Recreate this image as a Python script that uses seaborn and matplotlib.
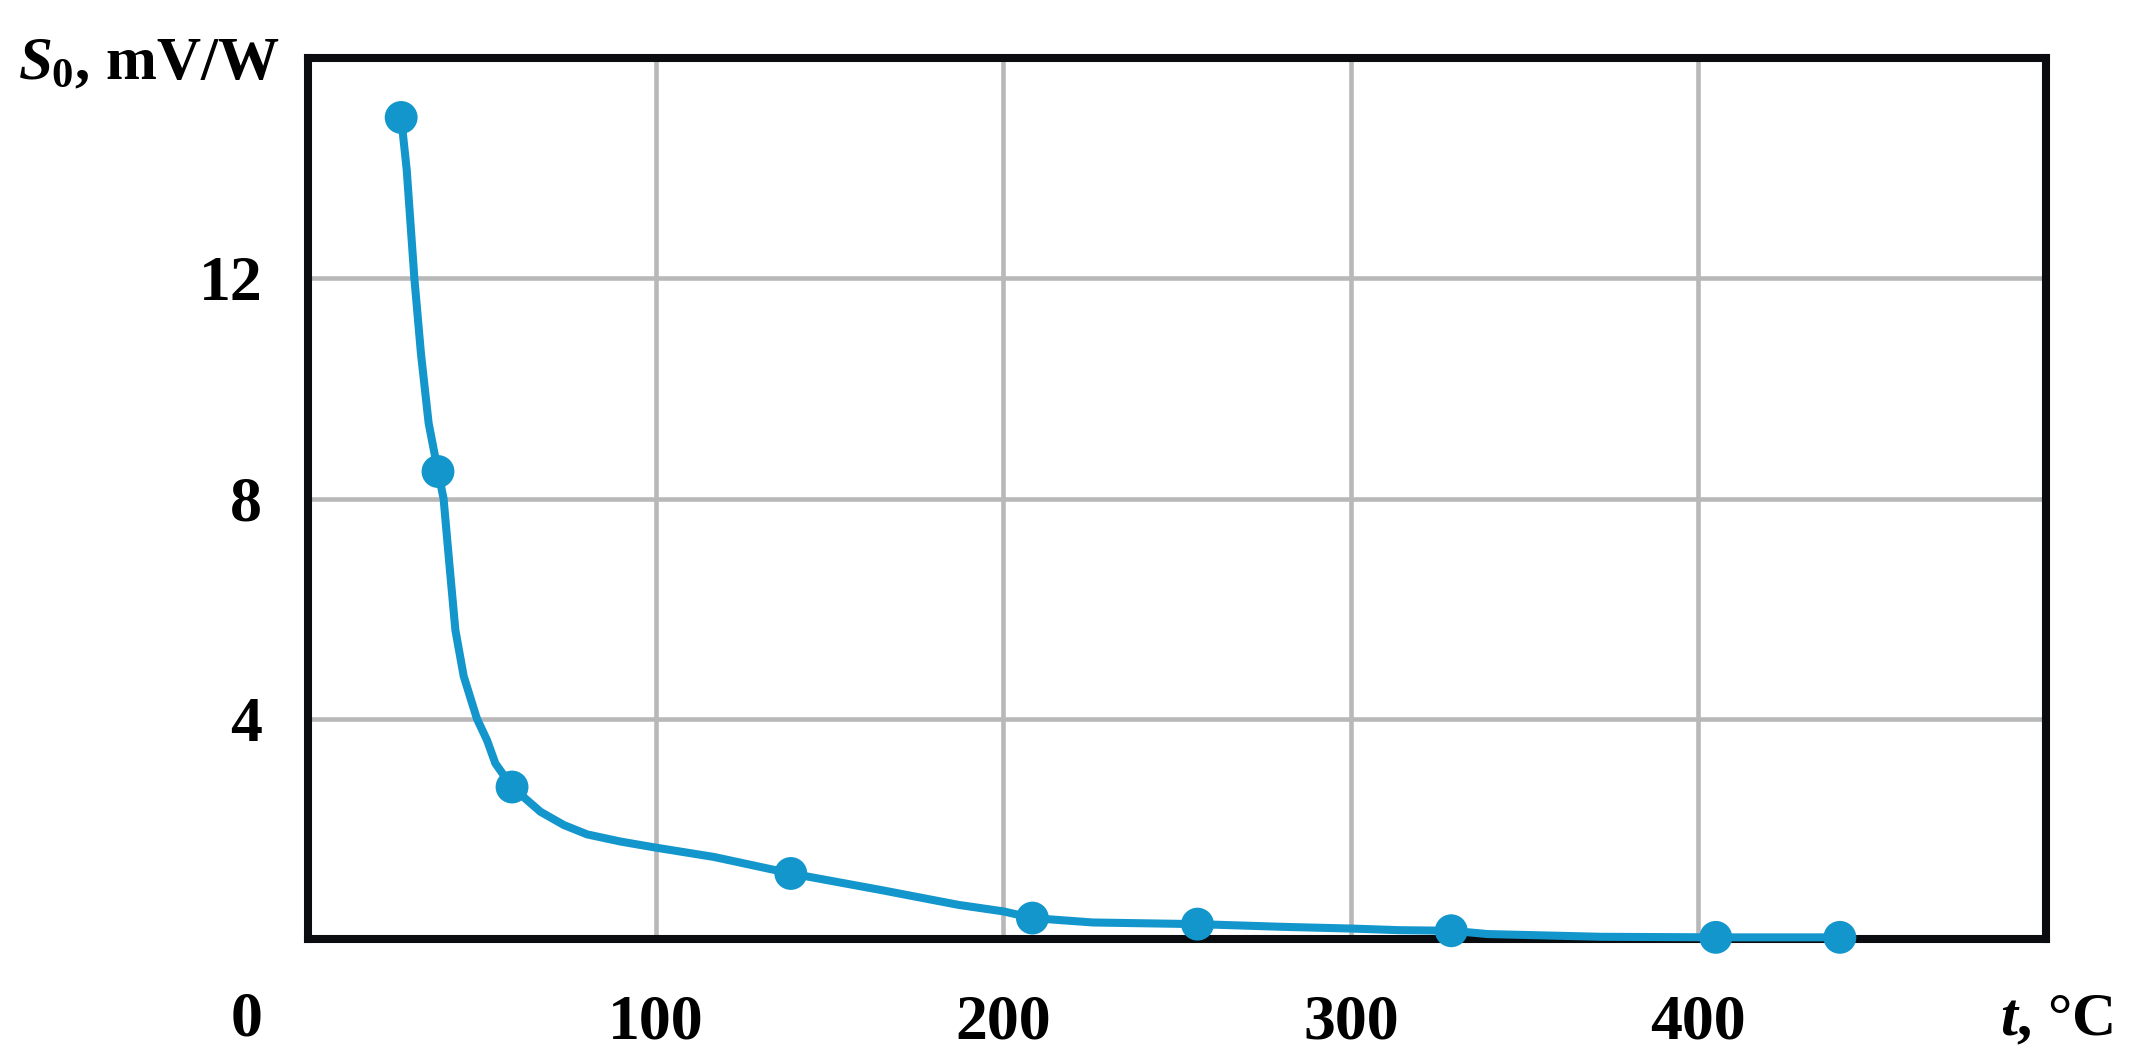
import matplotlib
matplotlib.use("Agg")
import matplotlib.pyplot as plt
import seaborn as sns
import pandas as pd

# measured points (t in °C, S0 in mV/W)
t_points = [26.8, 37.4, 58.7, 138.9, 208.4, 255.9, 328.9, 405.0, 440.7]
s_points = [14.92, 8.49, 2.76, 1.19, 0.38, 0.27, 0.15, 0.03, 0.03]

# smooth hand-drawn curve
t_curve = [26.8, 28.4, 30.6, 32.5, 34.7, 37.4, 39.0, 40.6, 42.4, 44.8, 48.6,
           51.5, 53.9, 58.7, 66.9, 73.6, 80.3, 89.9, 100.0, 116.8, 138.9,
           164.8, 187.1, 200.2, 208.4, 225.8, 255.9, 280.9, 300.0, 314.0,
           328.9, 339.3, 372.0, 405.0, 440.7]
s_curve = [14.92, 13.97, 12.0, 10.63, 9.37, 8.49, 8.0, 6.86, 5.61, 4.77, 4.0,
           3.61, 3.19, 2.76, 2.31, 2.07, 1.90, 1.77, 1.66, 1.49, 1.19,
           0.89, 0.62, 0.50, 0.38, 0.30, 0.27, 0.22, 0.19, 0.16,
           0.15, 0.09, 0.04, 0.03, 0.03]

x_ticks = [100, 200, 300, 400]
y_ticks = [4, 8, 12]

sns.set_style("white")
plt.rcParams['font.family'] = ['Liberation Serif', 'DejaVu Serif']
plt.rcParams['font.weight'] = 'bold'
plt.rcParams['text.color'] = 'black'
plt.rcParams['xtick.color'] = 'black'
plt.rcParams['ytick.color'] = 'black'
plt.rcParams['mathtext.fontset'] = 'custom'
plt.rcParams['mathtext.it'] = 'Liberation Serif:italic:bold'
plt.rcParams['mathtext.rm'] = 'Liberation Serif:bold'

blue = "#1396cc"
fs = 46
fig = plt.figure(figsize=(21.42, 10.59), dpi=100)
ax = fig.add_axes([308/2142, 1-939/1059, (2046-308)/2142, (939-58)/1059])

curve = pd.DataFrame({"t": t_curve, "s": s_curve})
pts = pd.DataFrame({"t": t_points, "s": s_points})

sns.lineplot(data=curve, x="t", y="s", sort=False, color=blue, linewidth=5.8,
             ax=ax, zorder=4, clip_on=False, solid_joinstyle="round",
             solid_capstyle="round")
sns.scatterplot(data=pts, x="t", y="s", color=blue, s=560, edgecolor="none",
                ax=ax, zorder=5, clip_on=False)

ax.set_xlim(0, 500)
ax.set_ylim(0, 16)
ax.set_xticks(x_ticks)
ax.set_yticks(y_ticks)
ax.set_xticklabels([str(v) for v in x_ticks])
ax.set_yticklabels([str(v) for v in y_ticks])
ax.tick_params(length=0, labelsize=fs, labelcolor="black")
ax.tick_params(axis="x", pad=40)
ax.tick_params(axis="y", pad=33)
ax.grid(True, color="#b8b8b8", linewidth=3.3, zorder=1)
ax.set_axisbelow(True)
ax.set_xlabel("")
ax.set_ylabel("")
for sp in ax.spines.values():
    sp.set_visible(True)
    sp.set_color("#0b0c10")
    sp.set_linewidth(5.8)
    sp.set_zorder(3)

fig.text(247/2142, 1-1035/1059, "0", fontsize=fs, ha="center", va="baseline")
fig.text(18/2142, 1-79/1059, r"$\mathit{S_0}$, mV/W", fontsize=44, ha="left", va="baseline")
fig.text(2000/2142, 1-1035/1059, r"$\mathit{t}$, °C", fontsize=44, ha="left", va="baseline")

fig.savefig("out.png", dpi=100)
